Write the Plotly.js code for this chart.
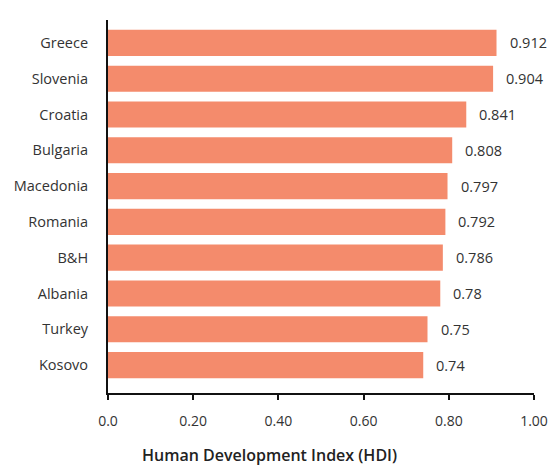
<!DOCTYPE html>
<html>
<head>
<meta charset="utf-8">
<script src="https://cdn.plot.ly/plotly-3.0.1.min.js"></script>
<style>html,body{margin:0;padding:0;background:#fff;}#chart{width:554px;height:466px;}</style>
</head>
<body>
<div id="chart"></div>
<script>
const countries = ["Greece","Slovenia","Croatia","Bulgaria","Macedonia","Romania","B&H","Albania","Turkey","Kosovo"];
const hdiValues = [0.912,0.904,0.841,0.808,0.797,0.792,0.786,0.78,0.75,0.74];
const valueLabels = ["0.912","0.904","0.841","0.808","0.797","0.792","0.786","0.78","0.75","0.74"];
const xTickVals = [0,0.2,0.4,0.6,0.8,1.0];
const xTickText = ["0.0","0.20","0.40","0.60","0.80","1.00"];

const font = "'Open Sans', 'DejaVu Sans', sans-serif";

const trace = {
  type: 'bar',
  orientation: 'h',
  x: hdiValues,
  y: countries,
  marker: {color: '#F48B6C'},
  hoverinfo: 'none'
};

const annotations = countries.map((c, i) => ({
  x: hdiValues[i], y: c, xref: 'x', yref: 'y',
  text: valueLabels[i], showarrow: false,
  xanchor: 'left', xshift: 11,
  font: {family: font, size: 14.5, color: '#333'}
}));
annotations.push({
  xref: 'paper', yref: 'paper', x: 0.38, y: -0.166,
  xanchor: 'center', yanchor: 'middle', showarrow: false,
  text: 'Human Development Index (HDI)',
  font: {family: font, size: 16, color: '#222', weight: 600}
});

const layout = {
  width: 554, height: 466,
  margin: {l: 108, r: 20, t: 20, b: 73},
  paper_bgcolor: '#fff', plot_bgcolor: '#fff',
  bargap: 0.27,
  showlegend: false,
  xaxis: {
    range: [0, 1], tickvals: xTickVals, ticktext: xTickText,
    showgrid: false, zeroline: false,
    showline: true, linecolor: '#111', linewidth: 2,
    ticks: 'outside', ticklen: 5, tickwidth: 2, tickcolor: '#111',
    ticklabelstandoff: 9,
    tickfont: {family: font, size: 14, color: '#333'},
    fixedrange: true
  },
  yaxis: {
    type: 'category',
    categoryorder: 'array', categoryarray: countries,
    range: [9.78, -0.64],
    showgrid: false, zeroline: false,
    showline: true, linecolor: '#111', linewidth: 2,
    ticks: 'outside', ticklen: 15, tickcolor: 'rgba(0,0,0,0)',
    tickfont: {family: font, size: 14.5, color: '#333'},
    fixedrange: true
  },
  annotations: annotations
};

Plotly.newPlot('chart', [trace], layout, {displayModeBar: false, staticPlot: true});
</script>
</body>
</html>
